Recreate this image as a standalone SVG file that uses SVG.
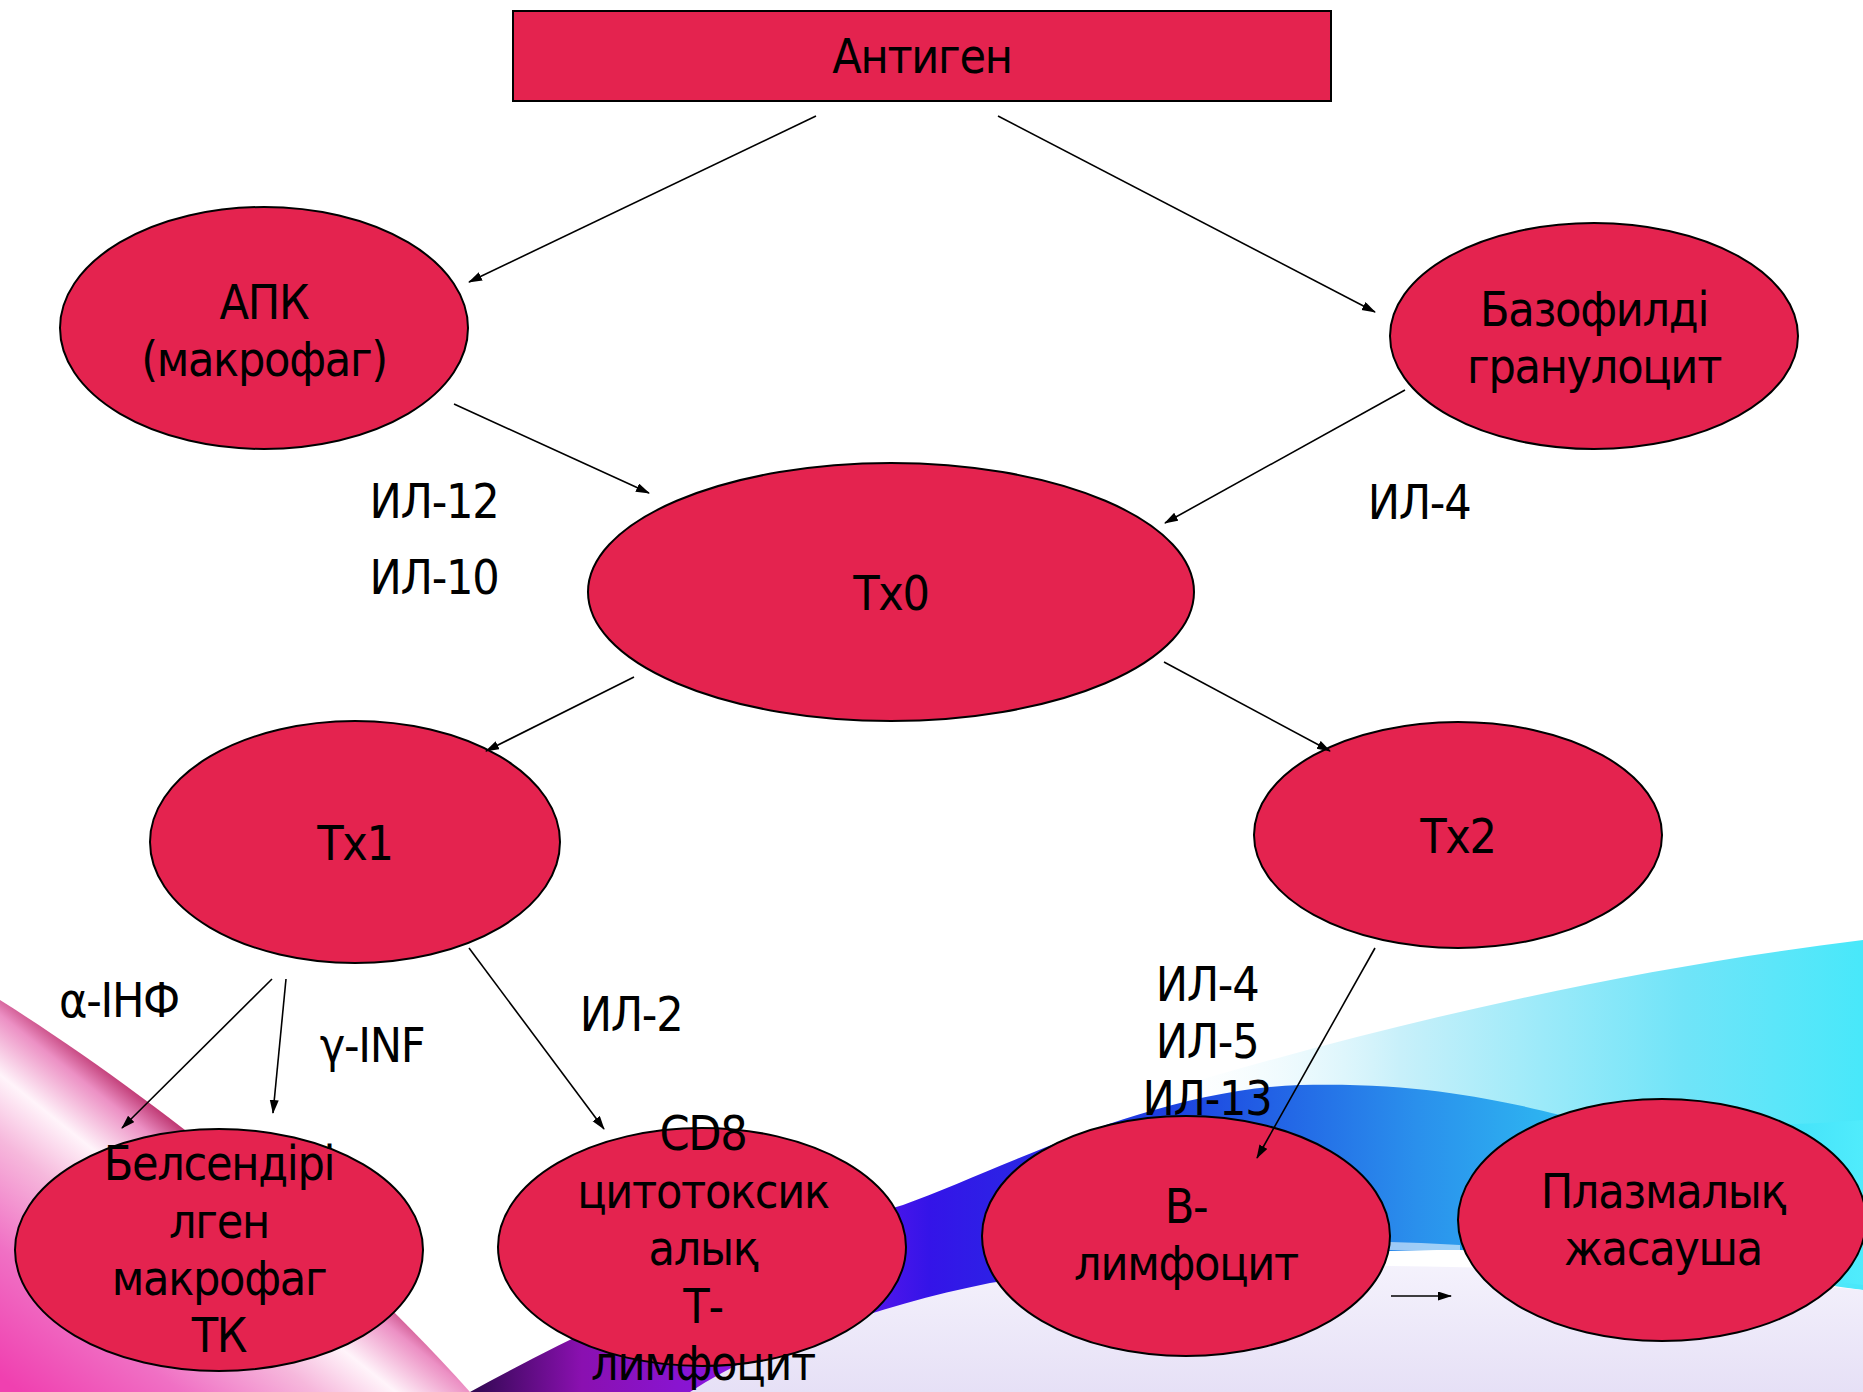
<svg xmlns="http://www.w3.org/2000/svg" width="1863" height="1392" viewBox="0 0 1863 1392">
<style>
.node{fill:#E4234F;stroke:#000;stroke-width:2}
.t{font-family:'DejaVu Sans Condensed','DejaVu Sans',sans-serif;font-stretch:condensed;font-size:48px;letter-spacing:-1.3px;fill:#000;text-anchor:middle}
.c{stroke:#000;stroke-width:1.6;fill:none;marker-end:url(#ah)}
</style>
<defs>
<marker id="ah" markerUnits="userSpaceOnUse" markerWidth="14" markerHeight="10" refX="13" refY="4.5" orient="auto">
<path d="M0,0 L14,4.5 L0,9 z" fill="#000"/>
</marker>
<linearGradient id="pink" gradientUnits="userSpaceOnUse" x1="230" y1="1130" x2="20" y2="1392">
<stop offset="0" stop-color="#5a0c28"/>
<stop offset="0.06" stop-color="#b01c58"/>
<stop offset="0.16" stop-color="#ec90c4"/>
<stop offset="0.3" stop-color="#fff4fa"/>
<stop offset="0.45" stop-color="#f6b8dc"/>
<stop offset="0.7" stop-color="#f070c4"/>
<stop offset="1" stop-color="#f040b0"/>
</linearGradient>
<linearGradient id="band" gradientUnits="userSpaceOnUse" x1="470" y1="0" x2="1863" y2="0">
<stop offset="0" stop-color="#300850"/>
<stop offset="0.08" stop-color="#8a10b0"/>
<stop offset="0.22" stop-color="#8818f0"/>
<stop offset="0.33" stop-color="#3414e8"/>
<stop offset="0.5" stop-color="#1c40e0"/>
<stop offset="0.68" stop-color="#2a90ec"/>
<stop offset="0.85" stop-color="#30d0f4"/>
<stop offset="1" stop-color="#50ecfc"/>
</linearGradient>
<linearGradient id="cyan" gradientUnits="userSpaceOnUse" x1="1150" y1="0" x2="1863" y2="0">
<stop offset="0" stop-color="#ffffff" stop-opacity="0"/>
<stop offset="0.35" stop-color="#c8f0fa"/>
<stop offset="0.75" stop-color="#70e4f8"/>
<stop offset="1" stop-color="#48e8fa"/>
</linearGradient>
<linearGradient id="lav" gradientUnits="userSpaceOnUse" x1="0" y1="1250" x2="0" y2="1392">
<stop offset="0" stop-color="#f6f4fd"/>
<stop offset="1" stop-color="#e6e0f6"/>
</linearGradient>
</defs>
<rect width="1863" height="1392" fill="#fff"/>
<g id="background">
<path d="M1150,1095 C1380,1025 1620,970 1863,940 L1863,1290 C1700,1270 1500,1200 1150,1095 Z" fill="url(#cyan)"/>
<path d="M0,1000 C150,1095 330,1235 470,1392 L0,1392 Z" fill="url(#pink)"/>
<path d="M660,1392 C760,1335 900,1290 1050,1275 C1300,1255 1650,1270 1863,1290 L1863,1392 Z" fill="url(#lav)"/>
<path d="M470,1392 C600,1320 780,1240 903,1205 C1000,1170 1150,1090 1300,1085 C1420,1082 1500,1100 1560,1115 C1700,1130 1800,1125 1863,1120 L1863,1285 C1750,1270 1600,1252 1460,1250 C1300,1250 1100,1268 990,1283 C930,1295 880,1310 820,1330 C760,1352 720,1372 690,1392 Z" fill="url(#band)"/>
<path d="M1060,1250 C1200,1240 1330,1238 1460,1245 L1460,1252 C1330,1247 1200,1250 1060,1258 Z" fill="#ffffff" opacity="0.55"/>
</g>
<g id="antigen"><rect x="513" y="11" width="818" height="90" class="node"/><text class="t" x="922" y="73">Антиген</text></g>
<g id="apk"><ellipse cx="264" cy="328" rx="204" ry="121" class="node"/><text class="t" x="264" y="319">АПК</text><text class="t" x="264" y="376">(макрофаг)</text></g>
<g id="basophil"><ellipse cx="1594" cy="336" rx="204" ry="113" class="node"/><text class="t" x="1594" y="326">Базофилді</text><text class="t" x="1594" y="383">гранулоцит</text></g>
<g id="tx0"><ellipse cx="891" cy="592" rx="303" ry="129" class="node"/><text class="t" x="891" y="610">Тх0</text></g>
<g id="tx1"><ellipse cx="355" cy="842" rx="205" ry="121" class="node"/><text class="t" x="355" y="860">Тх1</text></g>
<g id="tx2"><ellipse cx="1458" cy="835" rx="204" ry="113" class="node"/><text class="t" x="1458" y="853">Тх2</text></g>
<g id="macrophage"><ellipse cx="219" cy="1250" rx="204" ry="121" class="node"/><text class="t" x="219" y="1180">Белсендірі</text><text class="t" x="219" y="1238">лген</text><text class="t" x="219" y="1295">макрофаг</text><text class="t" x="219" y="1352">ТК</text></g>
<g id="cd8"><ellipse cx="702" cy="1247" rx="204" ry="119" class="node"/><text class="t" x="703" y="1150">CD8</text><text class="t" x="703" y="1208">цитотоксик</text><text class="t" x="703" y="1265">алық</text><text class="t" x="703" y="1323">Т-</text><text class="t" x="703" y="1380">лимфоцит</text></g>
<g id="blymph"><ellipse cx="1186" cy="1236" rx="204" ry="120" class="node"/><text class="t" x="1186" y="1223">В-</text><text class="t" x="1186" y="1280">лимфоцит</text></g>
<g id="plasma"><ellipse cx="1662" cy="1220" rx="204" ry="121" class="node"/><text class="t" x="1663" y="1208">Плазмалық</text><text class="t" x="1663" y="1265">жасауша</text></g>
<g id="connectors">
<line class="c" x1="816" y1="116" x2="469" y2="282"/>
<line class="c" x1="998" y1="116" x2="1375" y2="312"/>
<line class="c" x1="454" y1="404" x2="649" y2="493"/>
<line class="c" x1="1405" y1="390" x2="1165" y2="523"/>
<line class="c" x1="634" y1="677" x2="486" y2="751"/>
<line class="c" x1="1164" y1="662" x2="1330" y2="751"/>
<line class="c" x1="272" y1="979" x2="122" y2="1128"/>
<line class="c" x1="286" y1="979" x2="273" y2="1113"/>
<line class="c" x1="469" y1="948" x2="604" y2="1129"/>
<line class="c" x1="1375" y1="948" x2="1257" y2="1158"/>
<line class="c" x1="1391" y1="1296" x2="1451" y2="1296"/>
</g>
<g id="labels">
<text class="t" x="434" y="518">ИЛ-12</text>
<text class="t" x="434" y="594">ИЛ-10</text>
<text class="t" x="1419" y="519">ИЛ-4</text>
<text class="t" x="119" y="1017">α-ІНФ</text>
<text class="t" x="372" y="1062">γ-INF</text>
<text class="t" x="631" y="1031">ИЛ-2</text>
<text class="t" x="1207" y="1001">ИЛ-4</text>
<text class="t" x="1207" y="1058">ИЛ-5</text>
<text class="t" x="1207" y="1115">ИЛ-13</text>
</g>
</svg>
